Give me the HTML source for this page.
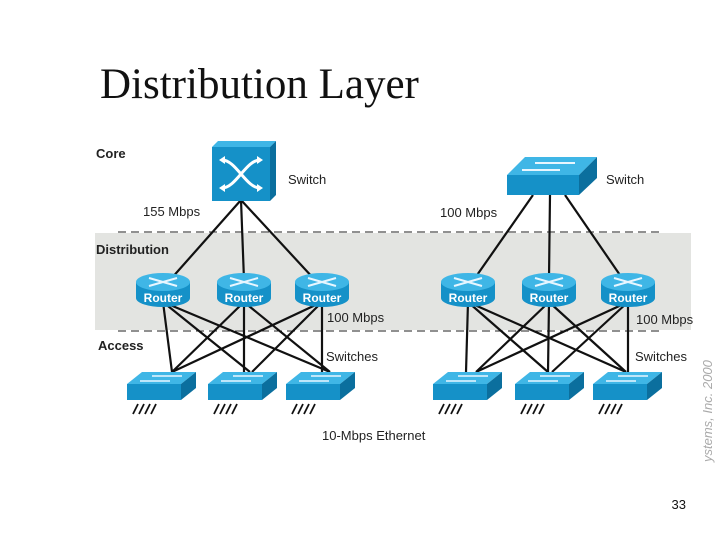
<!DOCTYPE html>
<html><head><meta charset="utf-8"><style>
html,body{margin:0;padding:0;background:#fff;width:720px;height:540px;overflow:hidden}
</style></head><body>
<svg width="720" height="540" viewBox="0 0 720 540" xmlns="http://www.w3.org/2000/svg" font-family="Liberation Sans, sans-serif">
<defs>
<g id="rt">
  <path d="M-27,-8 L-27,8 A27,9 0 0 0 27,8 L27,-8 Z" fill="#1591c8"/>
  <ellipse cx="0" cy="-8" rx="27" ry="9" fill="#3fb6e6"/>
  <path d="M-14,-12 L14,-4 M-14,-4 L14,-12" stroke="#e8f6ff" stroke-width="2"/>
</g>
<g id="sw">
  <polygon points="-33,-2 -18,-14 36,-14 21,-2" fill="#3fb6e6"/>
  <polygon points="21,-2 36,-14 36,2 21,14" fill="#0b6f9e"/>
  <rect x="-33" y="-2" width="54" height="16" fill="#1591c8"/>
  <path d="M-20,-5 L10,-5 M-8,-10 L22,-10" stroke="#e8f6ff" stroke-width="1.6"/>
  <path d="M-22,18 l-5,10 M-16,18 l-5,10 M-10,18 l-5,10 M-4,18 l-5,10" stroke="#111" stroke-width="1.8"/>
</g>
</defs>
<text x="100" y="98" font-family="Liberation Serif, serif" font-size="43" fill="#111">Distribution Layer</text>
<rect x="95" y="233" width="596" height="97" fill="#e3e4e1"/>
<line x1="118" y1="232" x2="662" y2="232" stroke="#222" stroke-dasharray="8,5"/>
<line x1="118" y1="331" x2="662" y2="331" stroke="#222" stroke-dasharray="8,5"/>
<g font-size="13" fill="#222">
<text x="96" y="158" font-weight="bold">Core</text>
<text x="96" y="254" font-weight="bold">Distribution</text>
<text x="98" y="350" font-weight="bold">Access</text>
<text x="288" y="184">Switch</text>
<text x="606" y="184">Switch</text>
<text x="143" y="216">155 Mbps</text>
<text x="440" y="217">100 Mbps</text>
<text x="327" y="322">100 Mbps</text>
<text x="636" y="324">100 Mbps</text>
<text x="326" y="361">Switches</text>
<text x="635" y="361">Switches</text>
<text x="322" y="440">10-Mbps Ethernet</text>
</g>
<text transform="translate(712,462) rotate(-90)" font-size="13" font-style="italic" fill="#aaa">ystems, Inc. 2000</text>
<g stroke="#111" stroke-width="2.2">
<path d="M241,200 L170,280 M241,200 L244,280 M241,200 L315,280"/>
<path d="M533,195 L475,278 M550,195 L549,278 M565,195 L622,278"/>
<path d="M163,302 L172,372 M163,302 L250,372 M163,302 L330,372 M244,302 L172,372 M244,302 L244,372 M244,302 L330,372 M322,302 L172,372 M322,302 L252,372 M322,302 L322,372"/>
<path d="M468,302 L466,372 M468,302 L548,372 M468,302 L626,372 M549,302 L476,372 M549,302 L548,372 M549,302 L626,372 M628,302 L476,372 M628,302 L552,372 M628,302 L628,372"/>
</g>
<g>
  <polygon points="212,147 218,141 276,141 270,147" fill="#3fb6e6"/>
  <polygon points="270,147 276,141 276,195 270,201" fill="#0b6f9e"/>
  <rect x="212" y="147" width="58" height="54" fill="#1591c8"/>
  <path d="M222,160 C236,160 246,188 260,188 M222,188 C236,188 246,160 260,160" stroke="#fff" stroke-width="3" fill="none"/>
  <path d="M219,160 l6,-4 v8z M219,188 l6,-4 v8z M263,160 l-6,-4 v8z M263,188 l-6,-4 v8z" fill="#fff"/>
</g>
<g>
  <polygon points="507,175 525,157 597,157 579,175" fill="#3fb6e6"/>
  <polygon points="579,175 597,157 597,178 579,195" fill="#0b6f9e"/>
  <rect x="507" y="175" width="72" height="20" fill="#1591c8"/>
  <path d="M522,170 L560,170 M535,163 L575,163" stroke="#e8f6ff" stroke-width="2"/>
</g>
<g font-size="12" font-weight="bold" fill="#fff" text-anchor="middle">
<use href="#rt" x="163" y="290"/><text x="163" y="302">Router</text>
<use href="#rt" x="244" y="290"/><text x="244" y="302">Router</text>
<use href="#rt" x="322" y="290"/><text x="322" y="302">Router</text>
<use href="#rt" x="468" y="290"/><text x="468" y="302">Router</text>
<use href="#rt" x="549" y="290"/><text x="549" y="302">Router</text>
<use href="#rt" x="628" y="290"/><text x="628" y="302">Router</text>
</g>
<use href="#sw" x="160" y="386"/>
<use href="#sw" x="241" y="386"/>
<use href="#sw" x="319" y="386"/>
<use href="#sw" x="466" y="386"/>
<use href="#sw" x="548" y="386"/>
<use href="#sw" x="626" y="386"/>
<text x="686" y="509" font-size="13" fill="#111" text-anchor="end">33</text>
</svg>
</body></html>
